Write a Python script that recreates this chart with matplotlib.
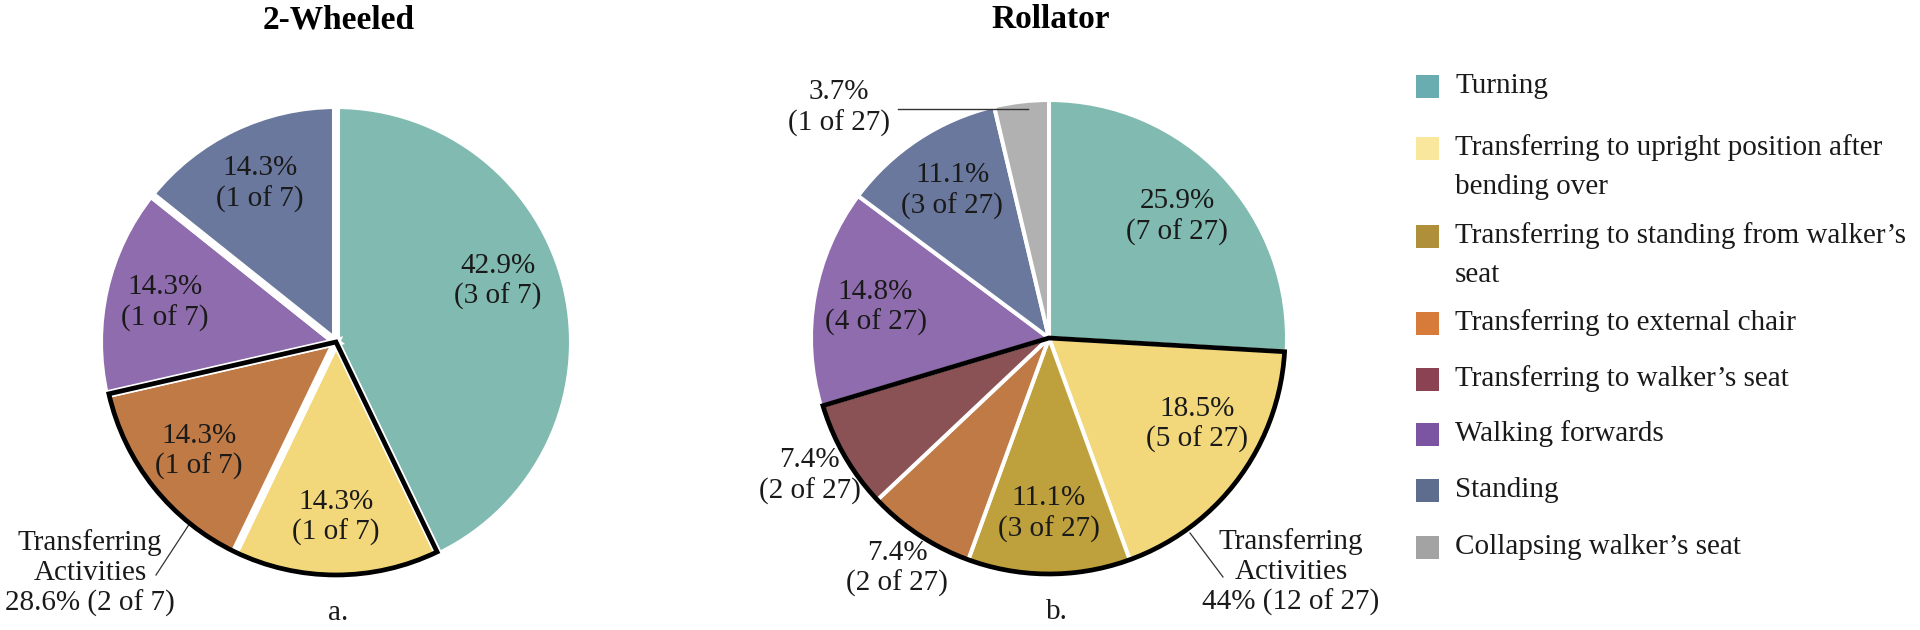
import matplotlib
matplotlib.use("Agg")
import matplotlib.pyplot as plt
from matplotlib.patches import Wedge, Rectangle
import numpy as np

# ---------------- data ----------------
categories = [
    "Turning",
    "Transferring to upright position after\nbending over",
    "Transferring to standing from walker\u2019s\nseat",
    "Transferring to external chair",
    "Transferring to walker\u2019s seat",
    "Walking forwards",
    "Standing",
    "Collapsing walker\u2019s seat",
]
two_wheeled_counts = [3, 1, 0, 1, 0, 1, 1, 0]
rollator_counts = [7, 5, 3, 2, 2, 4, 3, 1]
transferring_idx = [1, 2, 3, 4]
chart_titles = ["2-Wheeled", "Rollator"]
panel_tags = ["a.", "b."]
group_name = "Transferring\nActivities"
group_pct_fmt = ["{:.1f}%", "{:.0f}%"]

pie_colors = ["#80BAB0", "#F2D87B", "#BEA13C", "#BF7A46",
              "#8A5254", "#8E6CAD", "#6A789E", "#B1B1B1"]
legend_colors = ["#69ADB1", "#F8E79D", "#B08F3A", "#D77B3A",
                 "#8B4253", "#7B55A1", "#5E6D8E", "#A3A3A3"]

# ---------------- style / layout ----------------
plt.rcParams['font.family'] = ['Liberation Serif', 'DejaVu Serif']
TXT = "#1a1a1a"
FS = 21
W, H = 1920, 630


def Y(img_y):
    return H - img_y


fig = plt.figure(figsize=(19.2, 6.3), dpi=100)
ax = fig.add_axes([0, 0, 1, 1])

panels = [
    dict(counts=two_wheeled_counts, center=(336, 342), R=237, lw=5.8,
         title_xy=(339, 20), tag_xy=(338, 613),
         overrides={0: (0.73, 20.5)}, outside={},
         group_text_xy=(90, 573), group_line=((190, 523), (156, 575))),
    dict(counts=rollator_counts, center=(1049, 338), R=238, lw=2.9,
         title_xy=(1051, 20), tag_xy=(1057, 612),
         overrides={1: (0.72, -30.3)}, outside={3: 1.16, 4: 1.16},
         group_text_xy=(1291, 572), group_line=((1190, 533), (1223, 577))),
]

for p_i, p in enumerate(panels):
    counts = np.array(p["counts"])
    total = counts.sum()
    keep = [i for i, c in enumerate(counts) if c > 0]
    vals = counts[keep]
    cols = [pie_colors[i] for i in keep]
    cx, cy = p["center"]
    R = p["R"]
    wedges, _ = ax.pie(vals, colors=cols, startangle=90, counterclock=False,
                       radius=R, center=(cx, Y(cy)), frame=False,
                       wedgeprops=dict(edgecolor="white", linewidth=p["lw"]))
    # slice labels
    for w, i in zip(wedges, keep):
        c = counts[i]
        pct = c / total * 100
        label = f"{pct:.1f}%\n({c} of {total})"
        mid = 0.5 * (w.theta1 + w.theta2)
        frac = 0.74
        if i in p["overrides"]:
            frac, mid = p["overrides"][i]
        if i in p["outside"]:
            frac = p["outside"][i]
        if p_i == 1 and i == 7:
            # small slice: label outside with leader line
            lx, ly = 839, Y(108)
            ax.text(lx, ly, label, ha="center", va="center", fontsize=FS,
                    color=TXT, linespacing=1.2)
            ang = np.deg2rad(w.theta1 + 0.4 * (w.theta2 - w.theta1))
            ex = cx + (R - 8) * np.cos(ang)
            ey = Y(cy) + (R - 8) * np.sin(ang)
            ax.plot([lx + 59, ex], [ey, ey], color="#333333", lw=1.0)
            continue
        r = frac * R
        tx = cx + r * np.cos(np.deg2rad(mid))
        ty = Y(cy) + r * np.sin(np.deg2rad(mid))
        ax.text(tx, ty, label, ha="center", va="center", fontsize=FS,
                color=TXT, linespacing=1.2)
    # black outline around transferring group
    grp = [w for w, i in zip(wedges, keep) if i in transferring_idx]
    t1 = min(w.theta1 for w in grp)
    t2 = max(w.theta2 for w in grp)
    ax.add_patch(Wedge((cx, Y(cy)), R - p["lw"] * 100 / 72 / 2, t1, t2,
                       fill=False, edgecolor="black", linewidth=3.4,
                       joinstyle="miter", zorder=5))
    # group annotation
    gcount = int(counts[transferring_idx].sum())
    gpct = group_pct_fmt[p_i].format(gcount / total * 100)
    gx, gy = p["group_text_xy"]
    ax.text(gx, Y(gy), f"{group_name}\n{gpct} ({gcount} of {total})",
            ha="center", va="center", fontsize=FS, color=TXT, linespacing=1.2)
    (x1, y1), (x2, y2) = p["group_line"]
    ax.plot([x1, x2], [Y(y1), Y(y2)], color="#333333", lw=0.9)
    # title and tag
    tx, ty = p["title_xy"]
    ax.text(tx, Y(ty), chart_titles[p_i], ha="center", va="center",
            fontsize=24, fontweight="bold", color="black")
    gx2, gy2 = p["tag_xy"]
    ax.text(gx2, Y(gy2), panel_tags[p_i], ha="center", va="center",
            fontsize=FS, color=TXT)

# ---------------- legend ----------------
legend_rows = [86, 148, 236, 323, 379, 434, 490, 547]
line_gap = 39
sq = 23
for lab, col, ry in zip(categories, legend_colors, legend_rows):
    ax.add_patch(Rectangle((1416, Y(ry) - sq / 2), sq, sq, facecolor=col,
                           edgecolor="none"))
    for k, line in enumerate(lab.split("\n")):
        ax.text(1455, Y(ry + k * line_gap), line, ha="left", va="center",
                fontsize=FS, color=TXT)

ax.set_xlim(0, W)
ax.set_ylim(0, H)
ax.set_aspect("auto")
ax.axis("off")
fig.savefig("out.png", dpi=100, facecolor="white")
